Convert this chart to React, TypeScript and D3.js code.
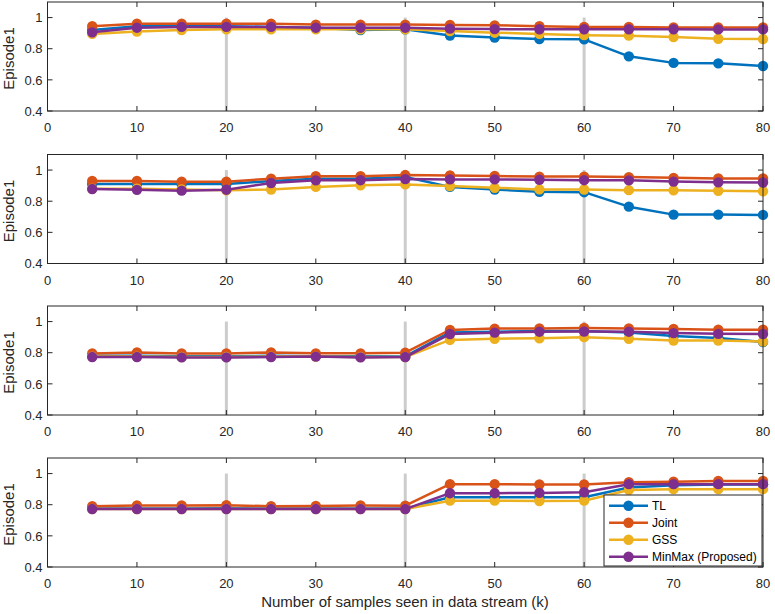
import React from 'react';
import * as d3 from 'd3';

const xs = [5, 10, 15, 20, 25, 30, 35, 40, 45, 50, 55, 60, 65, 70, 75, 80];
const seriesNames = ['TL', 'Joint', 'GSS', 'MinMax (Proposed)'];
const colors = ['#0072BD', '#D95319', '#EDB120', '#7E2F8E'];
const xTicks = [0, 10, 20, 30, 40, 50, 60, 70, 80];
const yTicks = [0.4, 0.6, 0.8, 1];
const markers = [20, 40, 60];

const panel1 = [
  [0.92, 0.945, 0.945, 0.945, 0.94, 0.935, 0.92, 0.925, 0.885, 0.872, 0.862, 0.86, 0.751, 0.709, 0.706, 0.689],
  [0.945, 0.96, 0.96, 0.96, 0.96, 0.955, 0.955, 0.955, 0.952, 0.95, 0.945, 0.94, 0.94, 0.937, 0.936, 0.936],
  [0.895, 0.91, 0.92, 0.925, 0.925, 0.925, 0.925, 0.925, 0.913, 0.903, 0.895, 0.887, 0.884, 0.875, 0.864, 0.862],
  [0.905, 0.935, 0.94, 0.94, 0.94, 0.935, 0.935, 0.935, 0.929, 0.926, 0.925, 0.925, 0.925, 0.925, 0.924, 0.924],
];
const panel2 = [
  [0.91, 0.91, 0.91, 0.91, 0.93, 0.945, 0.945, 0.955, 0.892, 0.875, 0.86, 0.858, 0.765, 0.714, 0.714, 0.712],
  [0.93, 0.93, 0.925, 0.925, 0.945, 0.96, 0.96, 0.968, 0.965, 0.962, 0.958, 0.958, 0.955, 0.95, 0.946, 0.946],
  [0.88, 0.88, 0.875, 0.87, 0.875, 0.892, 0.902, 0.908, 0.898, 0.886, 0.876, 0.875, 0.871, 0.87, 0.867, 0.864],
  [0.878, 0.873, 0.868, 0.874, 0.917, 0.934, 0.935, 0.942, 0.94, 0.94, 0.938, 0.935, 0.934, 0.926, 0.921, 0.92],
];
const panel3 = [
  [0.78, 0.78, 0.778, 0.778, 0.78, 0.778, 0.778, 0.776, 0.93, 0.935, 0.94, 0.94, 0.93, 0.907, 0.895, 0.869],
  [0.795, 0.802, 0.795, 0.795, 0.802, 0.796, 0.796, 0.8, 0.946, 0.955, 0.956, 0.959, 0.956, 0.952, 0.948, 0.948],
  [0.775, 0.775, 0.772, 0.772, 0.775, 0.775, 0.772, 0.772, 0.882, 0.89, 0.893, 0.9, 0.89, 0.878, 0.878, 0.872],
  [0.772, 0.772, 0.77, 0.77, 0.772, 0.775, 0.77, 0.772, 0.92, 0.929, 0.935, 0.936, 0.935, 0.926, 0.921, 0.92],
];
const panel4 = [
  [0.775, 0.775, 0.775, 0.778, 0.775, 0.775, 0.775, 0.775, 0.848, 0.848, 0.848, 0.848, 0.91, 0.925, 0.93, 0.93],
  [0.79, 0.795, 0.795, 0.797, 0.79, 0.792, 0.795, 0.794, 0.932, 0.932, 0.93, 0.93, 0.945, 0.948, 0.952, 0.953],
  [0.772, 0.772, 0.772, 0.772, 0.772, 0.772, 0.772, 0.772, 0.826, 0.826, 0.824, 0.826, 0.895, 0.9, 0.9, 0.9],
  [0.772, 0.772, 0.772, 0.772, 0.772, 0.772, 0.772, 0.772, 0.874, 0.874, 0.876, 0.88, 0.932, 0.932, 0.932, 0.932],
];
const panels = [panel1, panel2, panel3, panel4];

const W = 775;
const H = 614;
const left = 47.5;
const right = 763;
const panelH = 109;
const panelTops = [2, 154.5, 306, 458];
const font = 'Liberation Sans, Arial, Helvetica, sans-serif';
const axisColor = '#262626';

function Panel({ data, top, showLegend }: { data: number[][]; top: number; showLegend: boolean }) {
  const x = d3.scaleLinear().domain([0, 80]).range([left, right]);
  const y = d3.scaleLinear().domain([0.4, 1.1]).range([top + panelH, top]);
  const line = d3.line<number>().x((_, i) => x(xs[i])).y(d => y(d));
  const tick = 5;
  return (
    <g>
      {markers.map(m => (
        <line key={m} x1={x(m)} x2={x(m)} y1={y(1)} y2={y(0.4)} stroke="#cccccc" strokeWidth={3} />
      ))}
      {data.map((vals, si) => (
        <g key={si}>
          <path d={line(vals) || ''} fill="none" stroke={colors[si]} strokeWidth={2.5} strokeLinejoin="round" />
          {vals.map((v, i) => (
            <circle key={i} cx={x(xs[i])} cy={y(v)} r={5.2} fill={colors[si]} />
          ))}
        </g>
      ))}
      <rect x={left} y={top} width={right - left} height={panelH} fill="none" stroke={axisColor} strokeWidth={1} />
      {xTicks.map(t => (
        <g key={t}>
          <line x1={x(t)} x2={x(t)} y1={top + panelH} y2={top + panelH - tick} stroke={axisColor} />
          <line x1={x(t)} x2={x(t)} y1={top} y2={top + tick} stroke={axisColor} />
          <text x={x(t)} y={top + panelH + 21} textAnchor="middle" fontSize={13} fill={axisColor} fontFamily={font}>{t}</text>
        </g>
      ))}
      {yTicks.map(t => (
        <g key={t}>
          <line x1={left} x2={left + tick} y1={y(t)} y2={y(t)} stroke={axisColor} />
          <line x1={right} x2={right - tick} y1={y(t)} y2={y(t)} stroke={axisColor} />
          <text x={left - 5} y={y(t) + 4.7} textAnchor="end" fontSize={13} fill={axisColor} fontFamily={font}>{t}</text>
        </g>
      ))}
      <text transform={`translate(14,${top + panelH / 2 + 2}) rotate(-90)`} textAnchor="middle" fontSize={15} fill={axisColor} fontFamily={font}>Episode1</text>
      {showLegend && (
        <g>
          <rect x={604} y={495} width={158} height={71} fill="white" stroke={axisColor} strokeWidth={1} />
          {seriesNames.map((n, i) => {
            const ly = 505.7 + i * 17;
            return (
              <g key={n}>
                <line x1={609} x2={648} y1={ly} y2={ly} stroke={colors[i]} strokeWidth={2.5} />
                <circle cx={628.5} cy={ly} r={5.2} fill={colors[i]} />
                <text x={652} y={ly + 4.3} fontSize={12} fill="#000" fontFamily={font}>{n}</text>
              </g>
            );
          })}
        </g>
      )}
    </g>
  );
}

export default function App() {
  return (
    <div style={{ position: 'fixed', left: 0, top: 0 }}>
      <svg width={W} height={H} style={{ display: 'block', background: 'white' }}>
        {panels.map((p, i) => (
          <Panel key={i} data={p} top={panelTops[i]} showLegend={i === 3} />
        ))}
        <text x={405} y={607} textAnchor="middle" fontSize={15} fill={axisColor} fontFamily={font}>
          Number of samples seen in data stream (k)
        </text>
      </svg>
    </div>
  );
}
